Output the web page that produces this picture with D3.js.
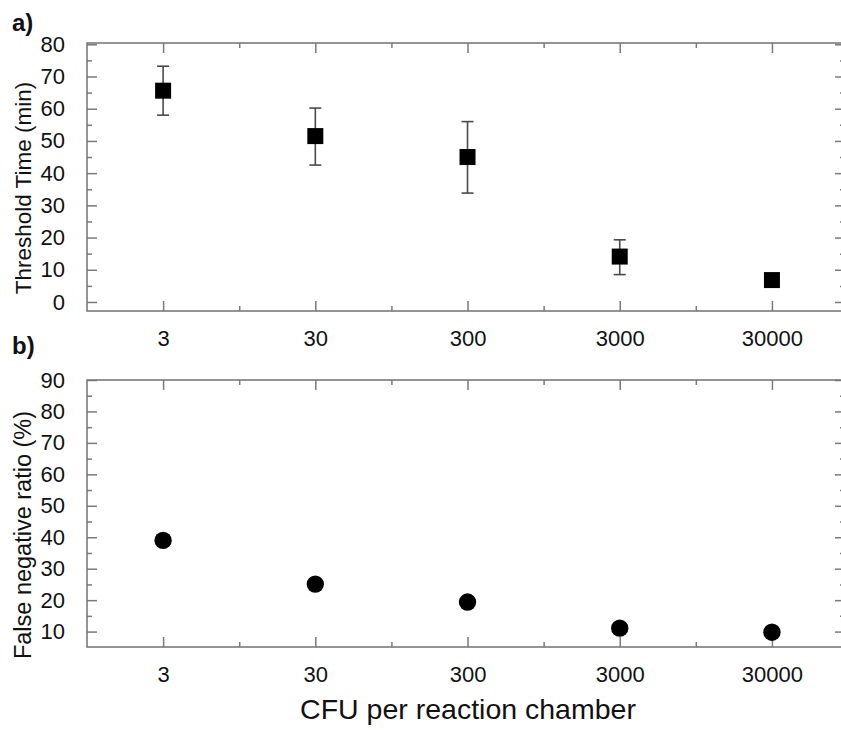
<!DOCTYPE html>
<html>
<head>
<meta charset="utf-8">
<script src="https://cdn.jsdelivr.net/npm/d3@7"></script>
<style>
  html, body { margin: 0; padding: 0; background: #fff; }
  svg { display: block; }
  text { font-family: Arial, "Liberation Sans", sans-serif; fill: #111; }
</style>
</head>
<body>
<script>
// ---- data ----
const cfu = [3, 30, 300, 3000, 30000];
const xTickLabels = ["3", "30", "300", "3000", "30000"];
const thresholdMean = [65.6, 51.5, 45.0, 14.1, 6.8];
const thresholdUpper = [73.2, 60.2, 56.0, 19.3, null];
const thresholdLower = [58.0, 42.5, 33.8, 8.5, null];
const falseNegative = [39.0, 25.1, 19.4, 11.1, 9.8];
const topYTicks = [0, 10, 20, 30, 40, 50, 60, 70, 80];
const bottomYTicks = [10, 20, 30, 40, 50, 60, 70, 80, 90];

const W = 841, H = 730;
const svg = d3.select("body").append("svg").attr("width", W).attr("height", H);

const left = 87, right = 845;
const x = d3.scaleLog()
  .domain([3 * Math.pow(10, -0.5), 3 * Math.pow(10, 4.48)])
  .range([left, right]);
const xMinor = d3.range(0, 4).map(k => 3 * Math.pow(10, k + 0.5));

const frameColor = "#7a7a7a";

function panel(cfg) {
  const g = svg.append("g");
  const y = d3.scaleLinear().domain(cfg.yDomain).range([cfg.bottom, cfg.top]);
  const yMinor = cfg.yMinor;

  // frame
  g.append("rect")
    .attr("x", left).attr("y", cfg.top)
    .attr("width", right - left).attr("height", cfg.bottom - cfg.top)
    .attr("fill", "none").attr("stroke", frameColor).attr("stroke-width", 1.6);

  // bottom axis (inner ticks)
  const bx = g.append("g").attr("transform", `translate(0,${cfg.bottom})`)
    .call(d3.axisBottom(x).tickValues(cfu).tickSize(-10).tickFormat((d, i) => xTickLabels[i]).tickPadding(19));
  bx.select(".domain").remove();
  bx.selectAll("line").attr("stroke", frameColor).attr("stroke-width", 1.5);
  bx.selectAll("text").style("font-size", "22px").attr("fill", "#111");
  const bxm = g.append("g").attr("transform", `translate(0,${cfg.bottom})`)
    .call(d3.axisBottom(x).tickValues(xMinor).tickSize(-5).tickFormat(""));
  bxm.select(".domain").remove();
  bxm.selectAll("line").attr("stroke", frameColor).attr("stroke-width", 1.5);

  // top axis mirrored
  const tx = g.append("g").attr("transform", `translate(0,${cfg.top})`)
    .call(d3.axisTop(x).tickValues(cfu).tickSize(-10).tickFormat(""));
  tx.select(".domain").remove();
  tx.selectAll("line").attr("stroke", frameColor).attr("stroke-width", 1.5);
  const txm = g.append("g").attr("transform", `translate(0,${cfg.top})`)
    .call(d3.axisTop(x).tickValues(xMinor).tickSize(-5).tickFormat(""));
  txm.select(".domain").remove();
  txm.selectAll("line").attr("stroke", frameColor).attr("stroke-width", 1.5);

  // left axis
  const ly = g.append("g").attr("transform", `translate(${left},0)`)
    .call(d3.axisLeft(y).tickValues(cfg.yTicks).tickSize(-10).tickPadding(22));
  ly.select(".domain").remove();
  ly.selectAll("line").attr("stroke", frameColor).attr("stroke-width", 1.5);
  ly.selectAll("text").style("font-size", "22px").attr("fill", "#111");
  const lym = g.append("g").attr("transform", `translate(${left},0)`)
    .call(d3.axisLeft(y).tickValues(yMinor).tickSize(-5).tickFormat(""));
  lym.select(".domain").remove();
  lym.selectAll("line").attr("stroke", frameColor).attr("stroke-width", 1.5);

  // right axis mirrored
  const ry = g.append("g").attr("transform", `translate(${right},0)`)
    .call(d3.axisRight(y).tickValues(cfg.yTicks).tickSize(-10).tickFormat(""));
  ry.select(".domain").remove();
  ry.selectAll("line").attr("stroke", frameColor).attr("stroke-width", 1.5);
  const rym = g.append("g").attr("transform", `translate(${right},0)`)
    .call(d3.axisRight(y).tickValues(yMinor).tickSize(-5).tickFormat(""));
  rym.select(".domain").remove();
  rym.selectAll("line").attr("stroke", frameColor).attr("stroke-width", 1.5);

  // y title
  g.append("text")
    .attr("transform", `translate(${cfg.titleX},${cfg.titleY}) rotate(-90)`)
    .attr("text-anchor", "middle")
    .style("font-size", cfg.titleSize + "px")
    .text(cfg.title);

  // panel letter
  g.append("text")
    .attr("x", 12).attr("y", cfg.letterY)
    .style("font-size", "24px").style("font-weight", "bold")
    .text(cfg.letter);

  return { g, y };
}

// ---- panel a ----
const pa = panel({
  top: 43, bottom: 311, yDomain: [-2.8, 80.4],
  yTicks: topYTicks, yMinor: d3.range(5, 80, 10),
  title: "Threshold Time (min)", titleX: 31, titleY: 188, titleSize: 22.5,
  letter: "a)", letterY: 31
});
const ga = pa.g, ya = pa.y;
const errData = cfu.map((c, i) => ({ c, m: thresholdMean[i], hi: thresholdUpper[i], lo: thresholdLower[i] }))
  .filter(d => d.hi !== null);
const capW = 6;
const eb = ga.append("g").attr("stroke", "#4a4a4a").attr("stroke-width", 1.6);
eb.selectAll("line.v").data(errData).join("line")
  .attr("x1", d => x(d.c)).attr("x2", d => x(d.c))
  .attr("y1", d => ya(d.hi)).attr("y2", d => ya(d.lo));
eb.selectAll("line.t").data(errData).join("line")
  .attr("x1", d => x(d.c) - capW).attr("x2", d => x(d.c) + capW)
  .attr("y1", d => ya(d.hi)).attr("y2", d => ya(d.hi));
eb.selectAll("line.b").data(errData).join("line")
  .attr("x1", d => x(d.c) - capW).attr("x2", d => x(d.c) + capW)
  .attr("y1", d => ya(d.lo)).attr("y2", d => ya(d.lo));
const sq = 16;
ga.selectAll("rect.pt").data(cfu).join("rect")
  .attr("x", d => x(d) - sq / 2)
  .attr("y", (d, i) => ya(thresholdMean[i]) - sq / 2)
  .attr("width", sq).attr("height", sq)
  .attr("fill", "#000");

// ---- panel b ----
const pb = panel({
  top: 380, bottom: 647, yDomain: [5.1, 90],
  yTicks: bottomYTicks, yMinor: d3.range(15, 90, 10),
  title: "False negative ratio (%)", titleX: 31, titleY: 535, titleSize: 23.5,
  letter: "b)", letterY: 354
});
const gb = pb.g, yb = pb.y;
gb.selectAll("circle.pt").data(cfu).join("circle")
  .attr("cx", d => x(d))
  .attr("cy", (d, i) => yb(falseNegative[i]))
  .attr("r", 8.7)
  .attr("fill", "#000");

// x title
svg.append("text")
  .attr("x", 468).attr("y", 719)
  .attr("text-anchor", "middle")
  .style("font-size", "28.5px")
  .text("CFU per reaction chamber");
</script>
</body>
</html>
